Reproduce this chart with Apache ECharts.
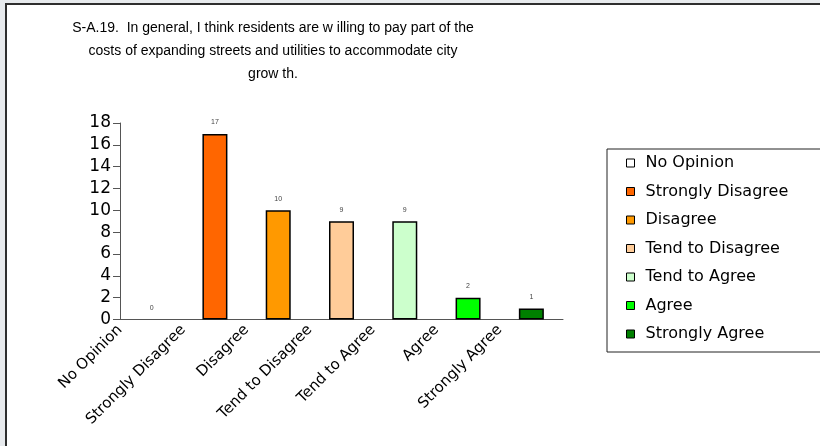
<!DOCTYPE html>
<html>
<head>
<meta charset="utf-8">
<script src="https://cdn.jsdelivr.net/npm/echarts@6/dist/echarts.min.js"></script>
<style>
  html, body { margin: 0; padding: 0; width: 820px; height: 446px; overflow: hidden; background: #e7eaed; }
  #frame { position: absolute; left: 5px; top: 3px; width: 900px; height: 500px; background: #fff;
           border-left: 2px solid #2e2e2e; border-top: 2px solid #2e2e2e; }
  #chart { position: absolute; left: 0; top: 0; width: 820px; height: 446px; }
</style>
</head>
<body>
<div id="frame"></div>
<div id="chart"></div>
<script>
// survey answers, one bar per answer
const categories = ['No Opinion', 'Strongly Disagree', 'Disagree', 'Tend to Disagree', 'Tend to Agree', 'Agree', 'Strongly Agree']
const counts = [0, 17, 10, 9, 9, 2, 1]
const colors = ['#ffffff', '#ff6600', '#ff9900', '#ffcc99', '#ccffcc', '#00ff00', '#008000']
const yTicks = { min: 0, max: 18, interval: 2 }

const titleText = 'S-A.19.  In general, I think residents are w illing to pay part of the\ncosts of expanding streets and utilities to accommodate city\ngrow th.'

const myChart = echarts.init(document.getElementById('chart'))

// one series per answer so the legend gets its own colour for each
const series = categories.map((name, i) => ({
  name: name,
  type: 'bar',
  stack: 'all',
  barWidth: 25,
  xAxisIndex: 0,
  data: counts.map((v, j) => {
    if (j !== i) return '-'
    // an empty bar shows no outline
    return v === 0 ? { value: v, itemStyle: { borderWidth: 0 } } : v
  }),
  itemStyle: { color: colors[i], borderColor: '#000', borderWidth: 1.5 },
  label: {
    show: true,
    position: 'top',
    distance: 8,
    fontSize: 7,
    color: '#444',
    fontFamily: 'Liberation Sans'
  }
}))

const option = {
  animation: false,
  title: {
    text: titleText,
    left: 268,
    top: 12,
    textAlign: 'center',
    textStyle: {
      fontFamily: 'Liberation Sans',
      fontWeight: 'normal',
      fontSize: 14,
      lineHeight: 23,
      color: '#000'
    }
  },
  legend: {
    orient: 'vertical',
    left: 607,
    top: 149,
    padding: [6, 80, 10, 19],
    itemGap: 12.5,
    itemWidth: 8,
    itemHeight: 8,
    icon: 'rect',
    borderColor: '#222',
    borderWidth: 1,
    itemStyle: { borderColor: '#000', borderWidth: 1 },
    textStyle: {
      fontFamily: 'DejaVu Sans',
      fontSize: 16,
      lineHeight: 16,
      color: '#000',
      padding: [0, 0, 0, 6]
    },
    data: categories
  },
  grid: { left: 120, right: 257, top: 123, bottom: 126.5 },
  xAxis: [
    {
      type: 'category',
      data: categories,
      axisLine: { lineStyle: { color: '#555', width: 1 } },
      axisTick: { length: 5, lineStyle: { color: '#555' } },
      axisLabel: { show: false }
    },
    {
      // label axis: names sit under the left tick of each band
      type: 'category',
      data: categories.concat(['']),
      boundaryGap: false,
      position: 'bottom',
      axisLine: { show: false },
      axisTick: { show: false },
      axisLabel: {
        interval: 0,
        rotate: 45,
        margin: 8,
        fontFamily: 'DejaVu Sans',
        fontSize: 15,
        color: '#000'
      }
    }
  ],
  yAxis: {
    type: 'value',
    min: yTicks.min,
    max: yTicks.max,
    interval: yTicks.interval,
    axisLine: { show: true, lineStyle: { color: '#555', width: 1 } },
    axisTick: { show: true, length: 7, lineStyle: { color: '#555' } },
    splitLine: { show: false },
    axisLabel: {
      margin: 9,
      fontFamily: 'DejaVu Sans',
      fontSize: 17,
      color: '#000'
    }
  },
  series: series
}

myChart.setOption(option)
</script>
</body>
</html>
